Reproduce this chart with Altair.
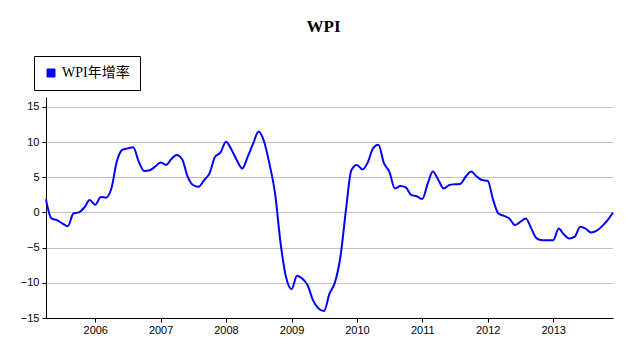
import altair as alt
import pandas as pd

start_month = "2005-04-01"
wpi = [1.85, -0.85, -1.1, -1.55, -1.95, -0.15, 0.0, 0.7, 1.75, 1.1,
       2.2, 2.1, 3.4, 7.2, 8.9, 9.1, 9.25, 7.2, 5.9, 6.0,
       6.5, 7.1, 6.75, 7.55, 8.15, 7.55, 5.1, 3.9, 3.65, 4.6,
       5.55, 7.9, 8.5, 10.05, 8.9, 7.45, 6.25, 7.9, 9.8, 11.5,
       10.05, 6.75, 2.7, -4.4, -9.15, -10.9, -9.0, -9.4, -10.35, -12.5,
       -13.65, -14.0, -11.55, -9.9, -6.3, 0.35, 6.0, 6.75, 6.1, 7.0,
       9.1, 9.6, 7.0, 5.8, 3.4, 3.75, 3.55, 2.45, 2.3, 1.9,
       4.15, 5.8, 4.6, 3.4, 3.9, 4.0, 4.05, 5.1, 5.8, 5.1,
       4.6, 4.5, 1.75, -0.15, -0.5, -0.85, -1.8, -1.35, -0.85, -2.3,
       -3.7, -3.95, -3.95, -3.95, -2.3, -3.1, -3.7, -3.45, -2.05, -2.3,
       -2.85, -2.6, -1.95, -1.1, 0.0]
months = [d.strftime("%Y-%m-%d") for d in pd.date_range(start_month, periods=len(wpi), freq="MS")]
series_name = "WPI年增率"
year_ticks = [2006, 2007, 2008, 2009, 2010, 2011, 2012, 2013]
y_ticks = [-15, -10, -5, 0, 5, 10, 15]

df = pd.DataFrame({"month": months, "value": wpi, "series": series_name})

sans = "Liberation Sans"
serif = "Liberation Serif, Noto Sans CJK SC"

chart = alt.Chart(df).mark_line(
    interpolate="monotone", strokeWidth=2, color="#0000ff"
).encode(
    x=alt.X("month:T",
            scale=alt.Scale(domain=[alt.DateTime(year=2005, month=4, date=1),
                                    alt.DateTime(year=2013, month=12, date=1)]),
            axis=alt.Axis(title=None, values=[alt.DateTime(year=y, month=1, date=1) for y in year_ticks],
                          format="%Y", grid=False, domainColor="black", tickColor="black",
                          tickSize=4, labelFont=sans, labelFontSize=11, labelColor="black",
                          labelPadding=2)),
    y=alt.Y("value:Q",
            scale=alt.Scale(domain=[-15, 16.4], nice=False, zero=False),
            axis=alt.Axis(title=None, values=y_ticks, grid=True, gridColor="#c0c0c0",
                          domainColor="black", tickColor="black", tickSize=4,
                          labelFont=sans, labelFontSize=11, labelColor="black", labelPadding=3)),
    color=alt.Color("series:N", scale=alt.Scale(range=["#0000ff"]),
                    legend=alt.Legend(title=None, orient="none", legendX=-12, legendY=-41,
                                      symbolType="square", symbolFillColor="#0000ff",
                                      symbolStrokeColor="black", symbolStrokeWidth=1,
                                      symbolSize=64, labelFont=serif, labelFontSize=14,
                                      labelColor="black", strokeColor="black", fillColor="white",
                                      padding=10, labelOffset=4)),
).properties(
    width=567, height=221,
    title=alt.TitleParams("WPI", font=serif, fontSize=17, fontWeight="bold", color="black",
                          anchor="middle", dx=-6, offset=20),
    autosize=alt.AutoSizeParams(type="none"),
    padding={"left": 38, "top": 89, "right": 9, "bottom": 18},
).configure_view(stroke=None)

chart.save("out.html", embed_options={"renderer": "svg", "actions": False})
